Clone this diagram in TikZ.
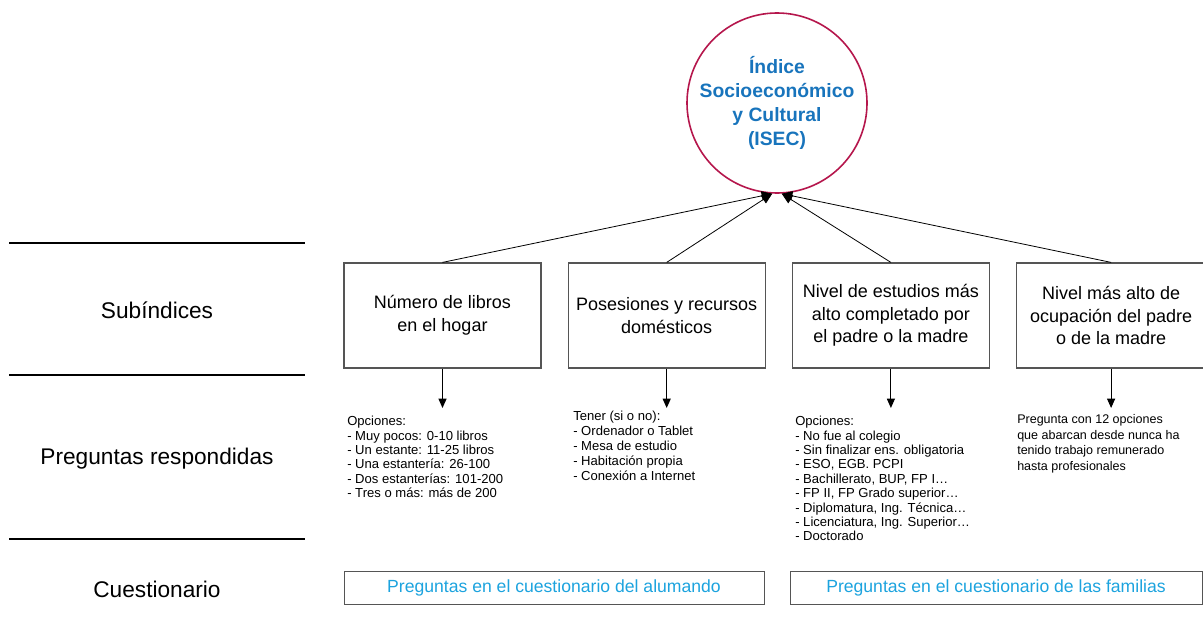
\documentclass[tikz,border=0pt]{standalone}
\usepackage{fontspec}
\setmainfont{Liberation Sans}
\usetikzlibrary{arrows.meta,positioning}
\definecolor[named]{IsecRed}{RGB}{181,22,76}
\definecolor[named]{IsecBlue}{RGB}{24,116,188}
\definecolor[named]{QCyan}{RGB}{28,163,222}
\definecolor[named]{BoxGray}{RGB}{85,85,85}
\tikzset{subindex/.style ={
        rectangle,
        draw=BoxGray,
        line width=0.9pt,
        minimum width=147.75pt,
        minimum height=78.75pt,
        inner sep=0pt,
        align=center,
        font=\fontsize{13.5}{17}\selectfont
    },
    items/.style ={
        anchor=north west,
        align=left,
        inner sep=0pt,
        font=\fontsize{9.8}{10.8}\selectfont
    },
    questionnaire/.style ={
        rectangle,
        draw=BoxGray,
        line width=0.7pt,
        minimum height=24.75pt,
        inner sep=0pt,
        text=QCyan,
        font=\fontsize{13.2}{16}\selectfont
    },
    rowlabel/.style ={
        font=\fontsize{17}{20}\selectfont
    },
    rule/.style ={
        draw,
        line width=1.2pt
    },
    up/.style ={
        draw,
        line width=0.6pt,
        -{Triangle[length=8pt,width=7pt]}
    },
    down/.style ={
        draw,
        line width=0.8pt,
        shorten >=6pt,
        -{Triangle[length=7pt,width=6pt]}
    }}
\begin{document}
\begin{tikzpicture}
    [
    x=0.75pt, y=-0.75pt,
    node distance=19.5pt,
    isec/.style ={
        circle,
        draw=IsecRed,
        line width=1.2pt,
        minimum size=132pt,
        inner sep=0pt,
        align=center,
        text=IsecBlue,
        font=\bfseries\fontsize{14.5}{18}\selectfont
    }
    ]
    \useasboundingbox (0,0) rectangle (1203,628);

    % row labels on the left
    \draw[rule] (9,243) -- (305,243);
    \draw[rule] (9,375) -- (305,375);
    \draw[rule] (9,539) -- (305,539);
    \node (subl) [rowlabel] at (157,310) {Subíndices};
    \node (pregl) [rowlabel] at (157,459) {Preguntas respondidas};
    \node (cuesl) [rowlabel] at (157,589) {Cuestionario};

    % index and sub-indices
    \node (isec) [isec] at (777,103) {Índice\\Socioeconómico\\y Cultural\\(ISEC)};
    \node (libros) [subindex] at (442.5,315.5) {Número de libros\\en el hogar};
    \node (posesiones) [subindex,right=of libros] {Posesiones y recursos\\domésticos};
    \node (estudios) [subindex,right=of posesiones] {Nivel de estudios más\\alto completado por\\el padre o la madre};
    \node (ocupacion) [subindex,right=of estudios,minimum width=141.75pt] {Nivel más alto de\\ocupación del padre\\o de la madre};

    % questions answered
    \node (librositems) [items] at (347,416) {Opciones:\\- Muy pocos: 0-10 libros\\- Un estante: 11-25 libros\\- Una estantería: 26-100\\- Dos estanterías: 101-200\\- Tres o más: más de 200};
    \node (posesionesitems) [items,font=\fontsize{9.8}{11.25}\selectfont] at (573,411) {Tener (si o no):\\- Ordenador o Tablet\\- Mesa de estudio\\- Habitación propia\\- Conexión a Internet};
    \node (estudiositems) [items] at (795,416) {Opciones:\\- No fue al colegio\\- Sin finalizar ens. obligatoria\\- ESO, EGB. PCPI\\- Bachillerato, BUP, FP I…\\- FP II, FP Grado superior…\\- Diplomatura, Ing. Técnica…\\- Licenciatura, Ing. Superior…\\- Doctorado};
    \node (ocupacionitems) [items,font=\fontsize{9.4}{11.8}\selectfont] at (1017,414) {Pregunta con 12 opciones\\que abarcan desde nunca ha\\tenido trabajo remunerado\\hasta profesionales};

    % questionnaires
    \node (alumno) [questionnaire,minimum width=315pt] at (554,587.5) {Preguntas en el cuestionario del alumando};
    \node (familias) [questionnaire,minimum width=309pt] at (996,587.5) {Preguntas en el cuestionario de las familias};

    \draw[up] (libros.north) -- (isec.-93);
    \draw[up] (posesiones.north) -- (isec.-93);
    \draw[up] (estudios.north) -- (isec.-87);
    \draw[up] (ocupacion.north) -- (isec.-87);

    \draw[down] (libros.south) -- (libros.south |- librositems.north);
    \draw[down] (posesiones.south) -- (posesiones.south |- librositems.north);
    \draw[down] (estudios.south) -- (estudios.south |- librositems.north);
    \draw[down] (ocupacion.south) -- (ocupacion.south |- librositems.north);

\end{tikzpicture}
\end{document}
